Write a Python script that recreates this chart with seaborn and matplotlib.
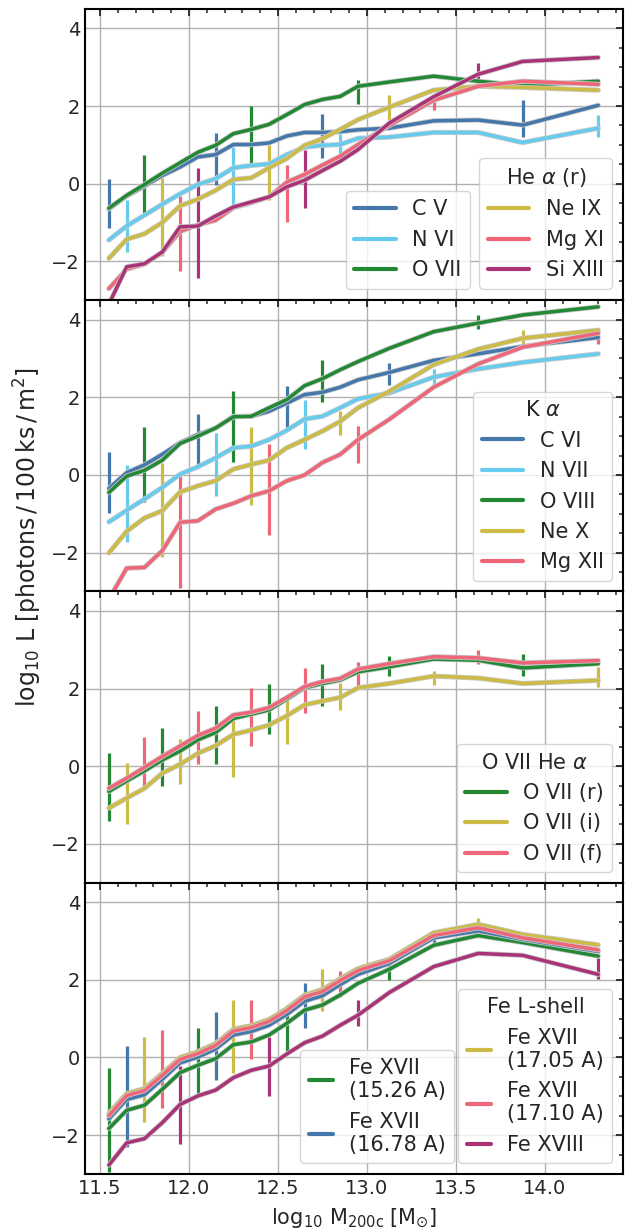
import numpy as np
import pandas as pd
import matplotlib
matplotlib.use("Agg")
import matplotlib.pyplot as plt
import matplotlib.patheffects as pe
from matplotlib.lines import Line2D
from matplotlib.ticker import MultipleLocator
import seaborn as sns

# ---------------- data ----------------
mass = [11.55, 11.65, 11.75, 11.85, 11.95, 12.05, 12.15, 12.25, 12.35, 12.45,
        12.55, 12.65, 12.75, 12.85, 12.95, 13.125, 13.375, 13.625, 13.875, 14.3]

# Panel 1: He alpha (r)
p1_names = ["C V", "N VI", "O VII", "Ne IX", "Mg XI", "Si XIII"]
cv = [-0.65, -0.32, -0.06, 0.21, 0.43, 0.69, 0.75, 1.01, 1.01, 1.05, 1.23, 1.32, 1.32, 1.34, 1.39, 1.43, 1.62, 1.64, 1.51, 2.02]
nvi = [-1.45, -1.09, -0.81, -0.53, -0.26, -0.02, 0.13, 0.41, 0.47, 0.51, 0.75, 0.94, 0.99, 1.01, 1.17, 1.20, 1.32, 1.32, 1.06, 1.43]
ovii = [-0.63, -0.30, -0.02, 0.27, 0.54, 0.81, 0.99, 1.29, 1.40, 1.53, 1.78, 2.04, 2.17, 2.25, 2.51, 2.62, 2.77, 2.64, 2.53, 2.64]
neix = [-1.92, -1.43, -1.29, -1.00, -0.57, -0.40, -0.17, 0.11, 0.15, 0.41, 0.65, 0.99, 1.16, 1.40, 1.65, 1.97, 2.41, 2.51, 2.48, 2.41]
mgxi = [-2.70, -2.20, -2.07, -1.77, -1.23, -1.06, -0.94, -0.62, -0.49, -0.34, 0.04, 0.24, 0.48, 0.71, 1.01, 1.50, 2.15, 2.51, 2.64, 2.56]
sixiii = [-3.10, -2.14, -2.06, -1.76, -1.11, -1.09, -0.83, -0.60, -0.47, -0.34, -0.08, 0.09, 0.34, 0.58, 0.88, 1.56, 2.24, 2.82, 3.15, 3.25]
p1_err = [
    [(-1.15, 0.13), (-0.04, 1.31), (0.67, 1.80), (1.21, 2.15)],
    [(-1.75, -0.43), (-0.56, 0.94), (0.75, 1.27), (1.21, 1.77)],
    [(-0.75, 0.75), (0.50, 2.00), (2.06, 2.68)],
    [(-1.86, 0.15), (-0.43, 0.99), (1.64, 2.28)],
    [(-2.25, -0.32), (-0.98, 0.47), (1.90, 2.32)],
    [(-2.42, 0.41), (-0.62, 0.88), (2.58, 3.11)],
]

# Panel 2: K alpha
p2_names = ["C VI", "N VII", "O VIII", "Ne X", "Mg XII"]
cvi = [-0.35, 0.06, 0.26, 0.53, 0.83, 1.04, 1.21, 1.51, 1.51, 1.64, 1.85, 2.07, 2.13, 2.26, 2.45, 2.64, 2.95, 3.12, 3.31, 3.54]
nvii = [-1.21, -0.91, -0.62, -0.32, 0.02, 0.21, 0.44, 0.70, 0.74, 0.91, 1.15, 1.44, 1.51, 1.73, 1.96, 2.11, 2.52, 2.73, 2.90, 3.12]
oviii = [-0.45, -0.03, 0.12, 0.38, 0.81, 1.00, 1.21, 1.50, 1.51, 1.73, 1.94, 2.30, 2.48, 2.71, 2.92, 3.26, 3.69, 3.91, 4.12, 4.33]
nex = [-2.01, -1.45, -1.11, -0.92, -0.44, -0.28, -0.15, 0.15, 0.27, 0.38, 0.70, 0.91, 1.13, 1.38, 1.73, 2.15, 2.84, 3.24, 3.52, 3.73]
mgxii = [-3.20, -2.40, -2.38, -1.95, -1.22, -1.18, -0.88, -0.73, -0.54, -0.41, -0.15, 0.00, 0.32, 0.53, 0.91, 1.43, 2.26, 2.86, 3.29, 3.65]
p2_err = [
    [(-0.98, 0.59), (0.27, 1.58), (1.21, 2.30), (2.32, 2.88)],
    [(-1.72, 0.27), (-0.54, 1.07), (0.68, 1.94), (2.26, 2.73)],
    [(-0.69, 1.23), (0.33, 2.17), (1.87, 2.97), (3.75, 4.12)],
    [(-2.10, 0.32), (-0.77, 1.23), (1.03, 1.64), (3.35, 3.74)],
    [(-2.90, -0.03), (-1.54, 0.79), (0.30, 1.27), (3.38, 3.69)],
]

# Panel 3: O VII He alpha
p3_names = ["O VII (r)", "O VII (i)", "O VII (f)"]
ovii_r = [-0.65, -0.38, -0.12, 0.16, 0.39, 0.68, 0.87, 1.23, 1.34, 1.45, 1.73, 2.02, 2.13, 2.22, 2.43, 2.56, 2.76, 2.73, 2.53, 2.64]
ovii_i = [-1.08, -0.82, -0.57, -0.18, 0.05, 0.33, 0.53, 0.82, 0.93, 1.06, 1.30, 1.58, 1.68, 1.77, 2.02, 2.13, 2.32, 2.27, 2.13, 2.21]
ovii_f = [-0.57, -0.31, -0.03, 0.25, 0.52, 0.79, 0.98, 1.32, 1.39, 1.51, 1.77, 2.05, 2.18, 2.26, 2.50, 2.64, 2.82, 2.79, 2.66, 2.72]
p3_err = [
    [(-1.41, 0.33), (-0.52, 0.98), (0.07, 1.56), (0.82, 2.13), (1.55, 2.62), (2.33, 2.83), (2.32, 2.90)],
    [(-1.49, 0.09), (-0.46, 0.69), (-0.27, 1.28), (0.57, 1.73), (1.46, 2.15), (2.08, 2.46), (2.03, 2.55)],
    [(-0.59, 0.76), (0.05, 1.41), (0.51, 2.02), (1.36, 2.54), (2.05, 2.69), (2.62, 3.00)],
]

# Panel 4: Fe L-shell
p4_names = ["Fe XVII\n(15.26 A)", "Fe XVII\n(16.78 A)", "Fe XVII\n(17.05 A)", "Fe XVII\n(17.10 A)", "Fe XVIII"]
fe1526 = [-1.83, -1.36, -1.23, -0.82, -0.39, -0.20, -0.03, 0.33, 0.40, 0.58, 0.88, 1.22, 1.35, 1.61, 1.91, 2.27, 2.89, 3.14, 2.96, 2.61]
fe1678 = [-1.58, -1.08, -0.96, -0.56, -0.14, 0.01, 0.22, 0.58, 0.67, 0.83, 1.11, 1.45, 1.59, 1.88, 2.14, 2.42, 3.08, 3.26, 3.04, 2.73]
fe1705 = [-1.44, -0.93, -0.80, -0.41, 0.00, 0.15, 0.36, 0.73, 0.82, 0.98, 1.26, 1.61, 1.75, 2.03, 2.29, 2.53, 3.21, 3.43, 3.17, 2.90]
fe1710 = [-1.50, -0.98, -0.85, -0.46, -0.05, 0.10, 0.31, 0.68, 0.77, 0.93, 1.21, 1.56, 1.70, 1.98, 2.24, 2.49, 3.14, 3.34, 3.08, 2.77]
fexviii = [-2.77, -2.20, -2.09, -1.68, -1.21, -0.99, -0.84, -0.52, -0.33, -0.22, 0.09, 0.38, 0.55, 0.83, 1.09, 1.67, 2.34, 2.68, 2.63, 2.14]
p4_err = [
    [(-2.94, -0.26), (-0.97, 0.75), (0.10, 1.36), (2.00, 2.44)],
    [(-2.30, 0.30), (-0.58, 1.16), (0.77, 1.93), (2.96, 3.26)],
    [(-1.67, 0.52), (-0.39, 1.49), (1.20, 2.27), (3.30, 3.60)],
    [(-1.31, 0.72), (-0.04, 1.49), (1.55, 2.23), (3.00, 3.15)],
    [(-2.23, -0.22), (-1.00, 0.53), (0.81, 1.49), (2.03, 2.57)],
]

# Paul Tol "bright" colours
BLUE, CYAN, GREEN, YELLOW, RED, PURPLE = "#4477AA", "#66CCEE", "#228833", "#CCBB44", "#EE6677", "#AA3377"

panels = [
    dict(names=p1_names, ys=[cv, nvi, ovii, neix, mgxi, sixiii], err=p1_err,
         colors=[BLUE, CYAN, GREEN, YELLOW, RED, PURPLE]),
    dict(names=p2_names, ys=[cvi, nvii, oviii, nex, mgxii], err=p2_err,
         colors=[BLUE, CYAN, GREEN, YELLOW, RED]),
    dict(names=p3_names, ys=[ovii_r, ovii_i, ovii_f], err=p3_err,
         colors=[GREEN, YELLOW, RED]),
    dict(names=p4_names, ys=[fe1526, fe1678, fe1705, fe1710, fexviii], err=p4_err,
         colors=[GREEN, BLUE, YELLOW, RED, PURPLE]),
]

# ---------------- style ----------------
sns.set_style("white")
plt.rcParams.update({
    "font.family": ["DejaVu Sans"],
    "font.size": 14,
    "axes.linewidth": 1.5,
    "mathtext.fontset": "dejavusans",
    "axes.unicode_minus": True,
})

fig = plt.figure(figsize=(6.28, 12.32), dpi=100)
axes = fig.subplots(4, 1, sharex=True, sharey=True)
fig.subplots_adjust(left=0.1354, right=0.9915, top=0.9927, bottom=0.0471, hspace=0)

LW = 2.5
outline = [pe.Stroke(linewidth=LW + 1.2, foreground="#c8c8c8"), pe.Normal()]

for ax, p in zip(axes, panels):
    n = len(p["names"])
    frames = []
    for name, y in zip(p["names"], p["ys"]):
        frames.append(pd.DataFrame({"x": mass, "y": y, "line": name}))
    df = pd.concat(frames, ignore_index=True)
    # error bars (staggered: series i shown at bins i, i+n, i+2n, ...)
    for i, (col, errs) in enumerate(zip(p["colors"], p["err"])):
        idx = list(range(i, len(mass), n))[: len(errs)]
        xs = [mass[k] for k in idx]
        lo = [e[0] for e in errs]
        hi = [e[1] for e in errs]
        ax.vlines(xs, lo, hi, colors=col, linewidth=2.3, zorder=2)
    sns.lineplot(data=df, x="x", y="y", hue="line", hue_order=p["names"],
                 palette=p["colors"], linewidth=LW, sort=False, errorbar=None,
                 legend=False, ax=ax, path_effects=outline, zorder=3)
    ax.set_xlabel("")
    ax.set_ylabel("")
    ax.grid(True, which="major", color="#b0b0b0", linewidth=1.0, zorder=0)
    ax.set_axisbelow(True)
    ax.xaxis.set_major_locator(MultipleLocator(0.5))
    ax.xaxis.set_minor_locator(MultipleLocator(0.1))
    ax.yaxis.set_major_locator(MultipleLocator(2))
    ax.yaxis.set_minor_locator(MultipleLocator(0.5))
    ax.tick_params(which="both", direction="in", top=True, right=True, labelsize=14)
    ax.tick_params(which="major", length=5, width=1.3)
    ax.tick_params(which="minor", length=2.6, width=1.1)
    for s in ax.spines.values():
        s.set_visible(True)
        s.set_color("black")

axes[0].set_xlim(11.416, 14.437)
axes[0].set_ylim(-3.0, 4.5)


def handles(names, colors):
    return [Line2D([0], [0], color=c, lw=3, label=nm) for nm, c in zip(names, colors)]


leg_kw = dict(fontsize=15, title_fontsize=15, borderaxespad=0, loc="lower right")

# Panel 1: two legends
h1 = handles(p1_names, panels[0]["colors"])
la = axes[0].legend(handles=h1[:3], bbox_to_anchor=(0.716, 0.040), **leg_kw)
axes[0].add_artist(la)
axes[0].legend(handles=h1[3:], title=r"He $\alpha$ (r)", bbox_to_anchor=(0.981, 0.040), **leg_kw)

# Panel 2
axes[1].legend(handles=handles(p2_names, panels[1]["colors"]), title=r"K $\alpha$",
               bbox_to_anchor=(0.981, 0.037), **leg_kw)

# Panel 3
axes[2].legend(handles=handles(p3_names, panels[2]["colors"]), title=r"O VII He $\alpha$",
               bbox_to_anchor=(0.981, 0.036), **leg_kw)

# Panel 4: two legends
h4 = handles(p4_names, panels[3]["colors"])
lb = axes[3].legend(handles=h4[:2], bbox_to_anchor=(0.687, 0.037), handlelength=1.15, **leg_kw)
axes[3].add_artist(lb)
axes[3].legend(handles=h4[2:], title="Fe L-shell", bbox_to_anchor=(0.981, 0.037),
               handlelength=1.15, **leg_kw)

axes[3].set_xlabel(r"$\log_{10}\,\mathrm{M}_{\mathrm{200c}}\;[\mathrm{M}_{\odot}]$",
                   fontsize=15, labelpad=6)
fig.text(0.045, 0.564, r"$\log_{10}\,\mathrm{L}\;[\mathrm{photons}\,/\,100\,\mathrm{ks}\,/\,\mathrm{m}^{2}]$",
         rotation=90, ha="center", va="center", fontsize=17)

fig.savefig("out.png", dpi=100)
